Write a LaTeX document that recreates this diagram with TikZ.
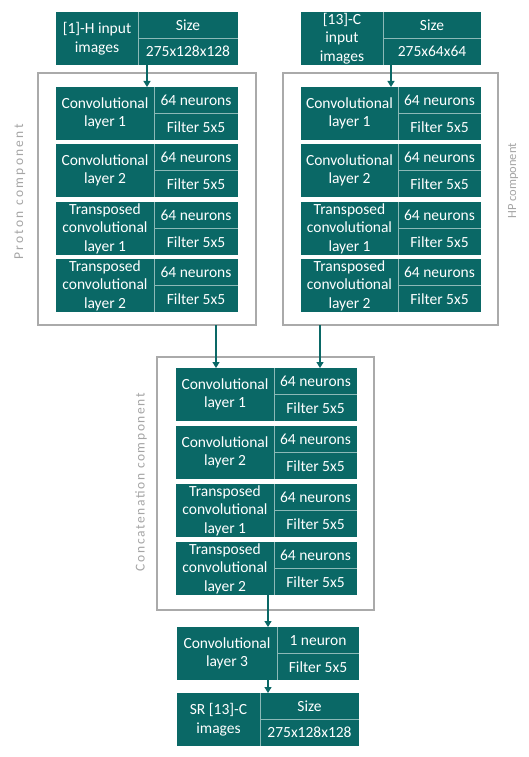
\documentclass[tikz,border=0pt]{standalone}
\usepackage{fontspec}
\setmainfont{Carlito}
\usetikzlibrary{arrows.meta}
\definecolor{tealA}{RGB}{10,104,102}
\definecolor{divc}{RGB}{140,185,183}
\definecolor{framec}{RGB}{170,170,170}
\definecolor{lblc}{RGB}{165,165,165}
\tikzset{
  cell/.style={fill=tealA, inner sep=0pt, outer sep=0pt},
  txt/.style={text=white, font=\fontsize{15.5}{18.5}\selectfont, align=center, inner sep=0pt},
  divline/.style={draw=divc, line width=0.8pt},
  frame/.style={draw=framec, line width=1.3pt, fill=white, inner sep=0pt, outer sep=0pt},
  arr/.style={draw=tealA, line width=1.2pt, -{Triangle[length=6pt,width=7pt]}},
  lbl/.style={text=lblc, inner sep=0pt, rotate=90}
}
\newcommand\blk[8]{%
  \pgfmathsetmacro\wl{#3-#2}\pgfmathsetmacro\wr{#4-#3}%
  \pgfmathsetmacro\xc{(#2+#4)/2}\pgfmathsetmacro\yb{#5+53}\pgfmathsetmacro\ym{#5+26.5}%
  \node[cell, minimum width=\wl pt, minimum height=53pt, anchor=north west] (#1L) at (#2,#5) {};
  \node[cell, minimum width=\wr pt, minimum height=26.5pt, anchor=north west] (#1T) at (#3,#5) {};
  \node[cell, minimum width=\wr pt, minimum height=26.5pt, anchor=north west] (#1B) at (#1T.south west) {};
  \draw[divline] (#1L.north east) -- (#1L.south east);
  \draw[divline] (#1T.south west) -- (#1T.south east);
  \node[txt] at (#1L.center) {#6};
  \node[txt] at (#1T.center) {#7};
  \node[txt] at (#1B.center) {#8};
  \coordinate (#1n) at (\xc,#5);
  \coordinate (#1s) at (\xc,\yb);
}
\begin{document}
\begin{tikzpicture}[x=1pt,y=-1pt]
\fill[white] (0,0) rectangle (529,757);
\useasboundingbox (0,0) rectangle (529,757);
% frames
\node[frame, minimum width=218pt, minimum height=252pt, anchor=north west] (pframe) at (38,73) {};
\node[frame, minimum width=215pt, minimum height=252pt, anchor=north west] (hframe) at (283,73) {};
\node[frame, minimum width=217pt, minimum height=253pt, anchor=north west] (cframe) at (157,357) {};
% labels
\node[lbl, font=\fontsize{13.5}{15}\selectfont\addfontfeature{LetterSpace=17}] (lp) at (20,192) {Proton component};
\node[lbl, font=\fontsize{12.5}{15}\selectfont] (lh) at (513,181) {HP component};
\node[lbl, font=\fontsize{13.5}{15}\selectfont\addfontfeature{LetterSpace=12}] (lc) at (141,482) {Concatenation component};
% inputs
\blk{pin}{56}{138}{238}{12}{[1]-H input\\images}{Size}{275x128x128}
\blk{hin}{301}{383}{481}{12}{[13]-C\\input\\images}{Size}{275x64x64}
% proton
\blk{pa}{56}{154}{238}{87}{Convolutional\\layer 1}{64 neurons}{Filter 5x5}
\blk{pb}{56}{154}{238}{144}{Convolutional\\layer 2}{64 neurons}{Filter 5x5}
\blk{pc}{56}{154}{238}{202}{Transposed\\convolutional\\layer 1}{64 neurons}{Filter 5x5}
\blk{pd}{56}{154}{238}{259}{Transposed\\convolutional\\layer 2}{64 neurons}{Filter 5x5}
% HP
\blk{ha}{301}{398}{481}{87}{Convolutional\\layer 1}{64 neurons}{Filter 5x5}
\blk{hb}{301}{398}{481}{144}{Convolutional\\layer 2}{64 neurons}{Filter 5x5}
\blk{hc}{301}{398}{481}{202}{Transposed\\convolutional\\layer 1}{64 neurons}{Filter 5x5}
\blk{hd}{301}{398}{481}{259}{Transposed\\convolutional\\layer 2}{64 neurons}{Filter 5x5}
% concat
\blk{ca}{176}{274}{357}{368}{Convolutional\\layer 1}{64 neurons}{Filter 5x5}
\blk{cb}{176}{274}{357}{426}{Convolutional\\layer 2}{64 neurons}{Filter 5x5}
\blk{cc}{176}{274}{357}{484}{Transposed\\convolutional\\layer 1}{64 neurons}{Filter 5x5}
\blk{cd}{176}{274}{357}{542}{Transposed\\convolutional\\layer 2}{64 neurons}{Filter 5x5}
% output
\blk{oa}{177}{277}{359}{627}{Convolutional\\layer 3}{1 neuron}{Filter 5x5}
\blk{ob}{177}{260}{359}{693}{SR [13]-C\\images}{Size}{275x128x128}
% arrows
\draw[arr] (pins) -- (pan);
\draw[arr] (hins) -- (han);
\coordinate (a1) at (216,325);
\coordinate (a2) at (320,325);
\draw[arr] (a1) -- (a1 |- can);
\draw[arr] (a2) -- (a2 |- can);
\draw[arr] (oan |- cds) -- (oan);
\draw[arr] (oas) -- (obn);
\end{tikzpicture}
\end{document}
